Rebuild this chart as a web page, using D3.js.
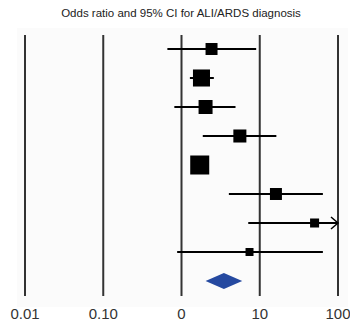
<!DOCTYPE html>
<html>
<head>
<meta charset="utf-8">
<script src="https://cdn.jsdelivr.net/npm/d3@7"></script>
<style>
  html, body { margin: 0; padding: 0; background: #fff; }
  svg { display: block; font-family: "Liberation Sans", Arial, sans-serif; }
</style>
</head>
<body>
<svg id="chart" width="350" height="322"></svg>
<script>
// Study-level odds ratios with 95% confidence intervals
const studies   = ["S1", "S2", "S3", "S4", "S5", "S6", "S7", "S8"];
const oddsRatio = [2.42, 1.80, 2.03, 5.57, 1.71, 16.1, 50.2, 7.4];
const ciLower   = [0.66, 1.28, 0.81, 1.87, 1.55, 4.03, 7.13, 0.88];
const ciUpper   = [9.0, 2.59, 4.9, 16.3, 1.95, 64.1, 350, 64.1];
const weights   = [9.9, 20.0, 13.5, 11.7, 24.9, 9.9, 5.6, 4.4];

// Pooled estimate
const pooled = { or: 3.48, lower: 2.03, upper: 5.97 };

const tickValues = [0.01, 0.1, 1, 10, 100];
const tickLabels = ["0.01", "0.10", "0", "10", "100"];
const title = "Odds ratio and 95% CI for ALI/ARDS diagnosis";

const svg = d3.select("#chart");

const x = d3.scaleLog().domain([0.01, 100]).range([25, 338]);
const y = d3.scalePoint().domain(d3.range(studies.length + 1)).range([49, 281]);
const size = d3.scaleSqrt().domain([0, 24.9]).range([0, 19]);

// plot panel background
svg.append("rect")
  .attr("x", 17).attr("y", 28).attr("width", 331).attr("height", 279)
  .attr("fill", "#fbfbfb");

svg.append("text")
  .attr("x", 181).attr("y", 17)
  .attr("text-anchor", "middle")
  .attr("font-size", 11.5)
  .attr("fill", "#222")
  .text(title);

// reference lines at each decade
svg.append("g").selectAll("line")
  .data(tickValues)
  .join("line")
  .attr("x1", d => x(d)).attr("x2", d => x(d))
  .attr("y1", 35).attr("y2", 296)
  .attr("stroke", "#333").attr("stroke-width", 2);

// axis labels
svg.append("g").selectAll("text")
  .data(tickValues)
  .join("text")
  .attr("x", d => x(d)).attr("y", 319)
  .attr("text-anchor", "middle")
  .attr("font-size", 15)
  .attr("fill", "#333")
  .text((d, i) => tickLabels[i]);

const rows = studies.map((s, i) => ({
  s, i, or: oddsRatio[i], lo: ciLower[i], hi: ciUpper[i], w: weights[i]
}));

const maxV = x.domain()[1];

// confidence interval lines (clipped at the axis limit)
const g = svg.append("g");
g.selectAll("line.ci")
  .data(rows)
  .join("line")
  .attr("class", "ci")
  .attr("x1", d => x(d.lo))
  .attr("x2", d => x(Math.min(d.hi, maxV)))
  .attr("y1", d => y(d.i)).attr("y2", d => y(d.i))
  .attr("stroke", "#000").attr("stroke-width", 2);

// arrowheads where the interval extends beyond the axis
g.selectAll("path.arrow")
  .data(rows.filter(d => d.hi > maxV))
  .join("path")
  .attr("class", "arrow")
  .attr("d", d => {
    const ax = x(maxV), ay = y(d.i);
    return `M${ax - 7},${ay - 6} L${ax},${ay} L${ax - 7},${ay + 6}`;
  })
  .attr("fill", "none").attr("stroke", "#000").attr("stroke-width", 1.5);

// weighted point estimates
g.selectAll("rect.est")
  .data(rows)
  .join("rect")
  .attr("class", "est")
  .attr("x", d => x(d.or) - size(d.w) / 2)
  .attr("y", d => y(d.i) - size(d.w) / 2)
  .attr("width", d => size(d.w))
  .attr("height", d => size(d.w))
  .attr("fill", "#000");

// pooled diamond
const py = y(studies.length);
svg.append("path")
  .attr("d", `M${x(pooled.lower)},${py} L${x(pooled.or)},${py - 8} L${x(pooled.upper)},${py} L${x(pooled.or)},${py + 8} Z`)
  .attr("fill", "#2549a0");
</script>
</body>
</html>
